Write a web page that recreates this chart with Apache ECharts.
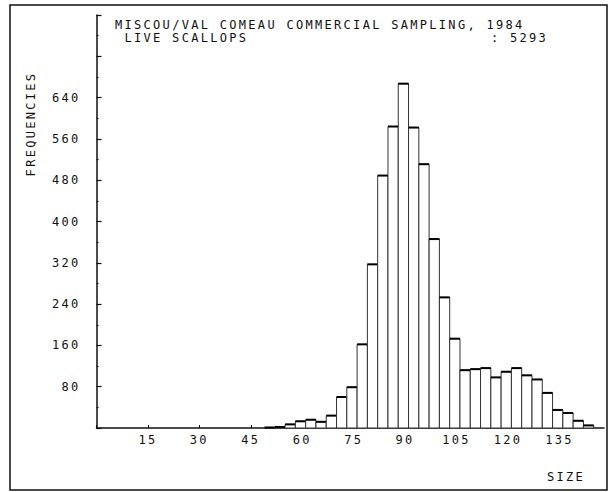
<!DOCTYPE html>
<html>
<head>
<meta charset="utf-8">
<title>Miscou/Val Comeau commercial sampling, 1984</title>
<script src="https://cdn.jsdelivr.net/npm/echarts@6/dist/echarts.min.js"></script>
<style>
  html, body { margin: 0; padding: 0; background: #fff; }
  #chart { width: 613px; height: 492px; }
  /* wide plotter-style lettering */
  #chart svg text { letter-spacing: 2.3px; }
</style>
</head>
<body>
<div id="chart"></div>
<script>
// Shell height frequencies, live scallops, 3 mm size classes (lower edge of each class)
const sizeBinStart = [49, 52, 55, 58, 61, 64, 67, 70, 73, 76, 79, 82, 85, 88, 91, 94, 97,
  100, 103, 106, 109, 112, 115, 118, 121, 124, 127, 130, 133, 136, 139, 142];
const liveCounts = [1, 2, 7, 13, 16, 12, 24, 60, 79, 162, 317, 489, 584, 667, 582, 511, 366,
  253, 173, 112, 114, 116, 98, 109, 116, 102, 94, 68, 35, 29, 14, 5];
const binWidth = 3;
const xTickStep = 15;
const yTickStep = 80;
const yLabelMax = 640;

const titleLine1 = 'MISCOU/VAL COMEAU COMMERCIAL SAMPLING, 1984';
const titleLine2 = 'LIVE SCALLOPS';
const totalText = ': 5293';

const mono = '"DejaVu Sans Mono", "Liberation Mono", monospace';
const ink = '#111';

const chart = echarts.init(document.getElementById('chart'), null, { renderer: 'svg' });

const barData = sizeBinStart.map((s, i) => [s, liveCounts[i]]);

chart.setOption({
  animation: false,
  backgroundColor: '#fff',
  grid: { left: 96.5, top: 15, right: 9, bottom: 64, containLabel: false },
  xAxis: {
    type: 'value',
    min: 0,
    max: 148,
    interval: xTickStep,
    axisLine: { show: true, lineStyle: { color: ink, width: 1.5 } },
    axisTick: { show: true, inside: true, length: 3, lineStyle: { color: ink, width: 1 } },
    axisLabel: {
      color: ink, fontFamily: mono, fontSize: 12, margin: 6,
      showMaxLabel: false,
      formatter: v => (v > 0 && v % xTickStep === 0) ? String(v) : ''
    },
    splitLine: { show: false }
  },
  yAxis: {
    type: 'value',
    min: 0,
    max: 800,
    interval: yTickStep,
    axisLine: { show: true, lineStyle: { color: ink, width: 1.5 } },
    axisTick: { show: true, inside: true, length: 5, lineStyle: { color: ink, width: 1.2 } },
    minorTick: { show: true, splitNumber: 2, length: 2, lineStyle: { color: ink, width: 1.2 } },
    axisLabel: {
      color: ink, fontFamily: mono, fontSize: 12, margin: 16,
      formatter: v => (v > 0 && v <= yLabelMax) ? String(v) : ''
    },
    splitLine: { show: false }
  },
  series: [{
    type: 'custom',
    data: barData,
    encode: { x: 0, y: 1 },
    renderItem: (params, api) => {
      const start = api.value(0);
      const count = api.value(1);
      const topLeft = api.coord([start, count]);
      const bottomRight = api.coord([start + binWidth, 0]);
      return {
        type: 'group',
        children: [
          {
            type: 'rect',
            shape: {
              x: topLeft[0], y: topLeft[1],
              width: bottomRight[0] - topLeft[0],
              height: bottomRight[1] - topLeft[1]
            },
            style: { fill: '#fff', stroke: '#333', lineWidth: 1 }
          },
          {
            type: 'line',
            shape: { x1: topLeft[0], y1: topLeft[1], x2: bottomRight[0], y2: topLeft[1] },
            style: { stroke: '#000', lineWidth: 2 }
          }
        ]
      };
    }
  }],
  graphic: [
    {
      type: 'rect',
      shape: { x: 10, y: 5, width: 597, height: 485 },
      style: { fill: 'none', stroke: ink, lineWidth: 1.5 },
      silent: true
    },
    {
      type: 'text', x: 115, y: 24.5,
      style: { text: titleLine1, font: '12px ' + mono, fill: ink, verticalAlign: 'middle' }
    },
    {
      type: 'text', x: 124.5, y: 37.5,
      style: { text: titleLine2, font: '12px ' + mono, fill: ink, verticalAlign: 'middle' }
    },
    {
      type: 'text', x: 491, y: 37.5,
      style: { text: totalText, font: '12px ' + mono, fill: ink, verticalAlign: 'middle' }
    },
    {
      type: 'text', x: 31, y: 124, rotation: Math.PI / 2,
      style: { text: 'FREQUENCIES', font: '12px ' + mono, fill: ink, align: 'center', verticalAlign: 'middle' }
    },
    {
      type: 'text', x: 547, y: 477,
      style: { text: 'SIZE', font: '12px ' + mono, fill: ink, verticalAlign: 'middle' }
    }
  ]
});
</script>
</body>
</html>
